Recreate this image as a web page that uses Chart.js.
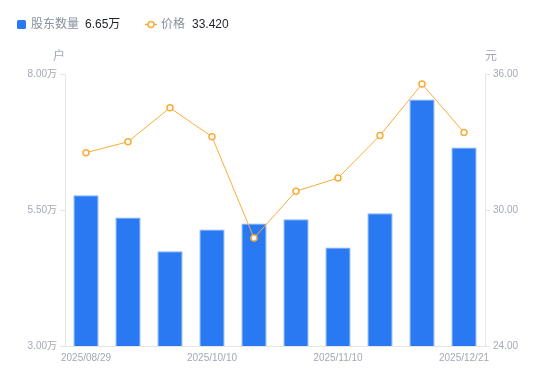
<!DOCTYPE html>
<html><head><meta charset="utf-8">
<script src="https://cdn.jsdelivr.net/npm/chart.js@4/dist/chart.umd.min.js"></script>
<style>html,body{margin:0;padding:0;background:#fff;}#wrap{width:550px;height:381px;position:relative;}</style>
</head><body><div id="wrap"><canvas id="c" width="550" height="381"></canvas></div>
<script>
const categories = ['2025/08/29','2025/09/10','2025/09/19','2025/10/10','2025/10/20','2025/10/31','2025/11/10','2025/11/20','2025/11/28','2025/12/21'];
const holders = [5.77, 5.36, 4.74, 5.14, 5.25, 5.33, 4.81, 5.44, 7.53, 6.65];
const prices = [32.53, 33.01, 34.51, 33.23, 28.76, 30.83, 31.41, 33.29, 35.56, 33.42];
const holderTicks = [3.00, 5.50, 8.00];
const priceTicks = [24.00, 30.00, 36.00];
const seriesNames = ['股东数量', '价格'];
const legendValues = ['6.65万', '33.420'];
const units = ['户', '元'];

const FONT = '"Liberation Sans", "Noto Sans CJK SC", sans-serif';
const BLUE = '#2979f2';
const BLUE_EDGE = '#7fb0f7';
const ORANGE = '#f8ad3a';
const TICK = '#a3a8b4';
const AXIS = '#e4e6eb';

const overlay = {
  id: 'overlay',
  afterDraw(chart) {
    const ctx = chart.ctx;
    const yl = chart.scales.y, yr = chart.scales.y1;
    ctx.save();
    ctx.textBaseline = 'middle';
    // legend
    ctx.fillStyle = BLUE;
    ctx.beginPath(); ctx.roundRect ? ctx.roundRect(17, 20, 9, 9, 1.5) : ctx.rect(17,20,9,9); ctx.fill();
    ctx.font = '12px ' + FONT;
    ctx.textAlign = 'left';
    ctx.fillStyle = '#86909c';
    ctx.fillText(seriesNames[0], 31, 25);
    let w = ctx.measureText(seriesNames[0]).width;
    ctx.fillStyle = '#1d2129';
    ctx.fillText(legendValues[0], 31 + w + 6, 25);
    // line icon
    ctx.strokeStyle = ORANGE; ctx.lineWidth = 1.5;
    ctx.beginPath(); ctx.moveTo(145, 24.5); ctx.lineTo(157, 24.5); ctx.stroke();
    ctx.fillStyle = '#fff';
    ctx.beginPath(); ctx.arc(151, 24.5, 3, 0, Math.PI * 2); ctx.fill(); ctx.stroke();
    ctx.fillStyle = '#86909c';
    ctx.fillText(seriesNames[1], 161, 25);
    w = ctx.measureText(seriesNames[1]).width;
    ctx.fillStyle = '#1d2129';
    ctx.fillText(legendValues[1], 161 + w + 7, 25);
    // units
    ctx.fillStyle = TICK;
    ctx.font = '12px ' + FONT;
    ctx.textAlign = 'right';
    ctx.fillText(units[0], yl.right, 57);
    ctx.textAlign = 'left';
    ctx.fillText(units[1], yr.left, 57);
    ctx.restore();
  }
};

new Chart(document.getElementById('c'), {
  data: {
    labels: categories,
    datasets: [
      {
        type: 'line', label: seriesNames[1], data: prices, yAxisID: 'y1',
        borderColor: ORANGE, borderWidth: 1, pointRadius: 3, pointBorderWidth: 1.5,
        pointBackgroundColor: '#fff', pointBorderColor: ORANGE, tension: 0, order: 0
      },
      {
        type: 'bar', label: seriesNames[0], data: holders, yAxisID: 'y',
        backgroundColor: BLUE, borderColor: BLUE_EDGE,
        borderWidth: { top: 1, left: 1, right: 1, bottom: 0 }, borderSkipped: 'bottom',
        barPercentage: 0.6, categoryPercentage: 1, order: 1
      }
    ]
  },
  options: {
    responsive: false, animation: false,
    layout: { padding: { top: 74, left: 0, right: 0, bottom: 0 } },
    plugins: { legend: { display: false }, tooltip: { enabled: false } },
    scales: {
      x: {
        grid: { display: true, drawOnChartArea: false, drawTicks: false, color: AXIS },
        border: { display: true, color: AXIS },
        ticks: {
          autoSkip: false, maxRotation: 0, padding: 6, color: TICK,
          font: { size: 10, family: FONT },
          callback: function (v, i) { return i % 3 === 0 ? categories[i] : ''; }
        },
        afterFit(s) { s.height = 35; }
      },
      y: {
        position: 'left', min: holderTicks[0], max: holderTicks[2],
        afterBuildTicks(s) { s.ticks = holderTicks.map(v => ({ value: v })); },
        grid: { drawOnChartArea: false, drawTicks: true, tickLength: 5, color: AXIS },
        border: { display: true, color: AXIS },
        ticks: { padding: 3, color: TICK, font: { size: 10, family: FONT }, callback: v => v.toFixed(2) + '万' },
        afterFit(s) { s.width = 65; }
      },
      y1: {
        position: 'right', min: priceTicks[0], max: priceTicks[2],
        afterBuildTicks(s) { s.ticks = priceTicks.map(v => ({ value: v })); },
        grid: { drawOnChartArea: false, drawTicks: true, tickLength: 5, color: AXIS },
        border: { display: true, color: AXIS },
        ticks: { padding: 3, color: TICK, font: { size: 10, family: FONT }, callback: v => v.toFixed(2) },
        afterFit(s) { s.width = 65; }
      }
    }
  },
  plugins: [overlay]
});
</script></body></html>
